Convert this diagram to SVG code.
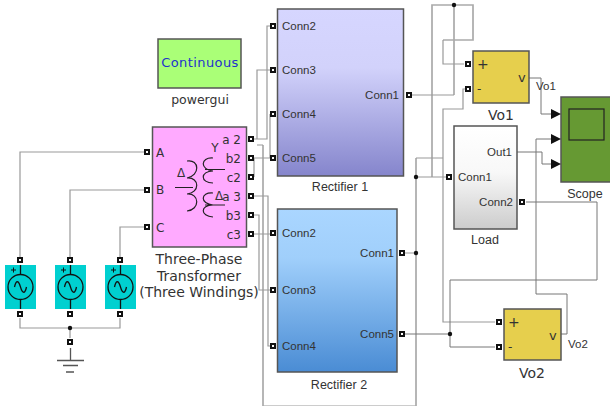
<svg xmlns="http://www.w3.org/2000/svg" width="610" height="406" viewBox="0 0 610 406">
<style>
text{font-family:"Liberation Sans",Arial,sans-serif;fill:#333;font-size:11.500px}
.v{font-family:"DejaVu Sans",Verdana,sans-serif}
.m{text-anchor:middle}
.e{text-anchor:end}
.t{font-size:12px}
.l{font-size:12.500px}
.h{font-size:14px}
.w{fill:none;stroke:#999;stroke-width:1.200}
.u{fill:none;stroke:#aaa;stroke-width:1.700}
.f{fill:none;stroke:#ccc;stroke-width:1}
.k{fill:none;stroke:#777;stroke-width:1}
.b{stroke:#555;stroke-width:1.500}
.s{fill:none;stroke:#222;stroke-width:1.200}
.j{fill:#111}
</style>
<defs>
<linearGradient id="g1" x1="0" y1="0" x2="0" y2="1"><stop offset="0" stop-color="#d6d6ff"/><stop offset=".35" stop-color="#d2d2fb"/><stop offset="1" stop-color="#8585cc"/></linearGradient>
<linearGradient id="g2" x1="0" y1="0" x2="0" y2="1"><stop offset="0" stop-color="#aad6ff"/><stop offset=".3" stop-color="#a0cffb"/><stop offset="1" stop-color="#4a8cd4"/></linearGradient>
<linearGradient id="g3" x1="0" y1="0" x2="0" y2="1"><stop offset="0" stop-color="#fff"/><stop offset=".45" stop-color="#f8f8f8"/><stop offset="1" stop-color="#ccc"/></linearGradient>
<g id="p"><rect x="-3" y="-3" width="6" height="6" fill="#111"/><rect x="-1" y="-1" width="2" height="2" fill="#fff"/></g>
<g id="src"><rect x="0" y="0" width="31" height="44" fill="#00d0d0"/><circle cx="15.500" cy="22" r="12.500" fill="none" stroke="#111" stroke-width="1.300"/><path d="M15.500 0V9.500M15.500 34.500V44M9.500 22c1.500-7 4-7 6 0s4.500 7 6 0" fill="none" stroke="#111" stroke-width="1.300"/><path d="M6 5h5M8.500 2.500v5" stroke="#111"/></g>
<path id="ar" d="M0-5L10 0L0 5Z" fill="#111"/>
</defs>
<g id="connectors">
<path class="f" d="M263 405.500H416"/>
<path class="u" d="M263 145V406M416 406V158M454 95V5M432 177V5H473V40H443"/>
<path class="w" d="M147 152H20V260M147 190H70V260M147 227H120V260M20 318V328H120V318M70 328V338"/>
<path class="w" d="M251 139H267V26H273M257 139V70H273M257 145H263M254 158V177M251 158H273M270 114V158M251 196H268V346H273M251 215H259V290H273M251 234H273"/>
<path class="w" d="M409 95H454M443 40V64H464M416 177H449M416 158H443V109H463V89H468M443 109V322H495M402 253H416"/>
<path class="k" d="M402 334H450M450 280V347H495M450 280H597V202H526"/>
<path class="k" d="M529 78H541V114H551M517 152H542V164H551M551 139H536V294H567V334H561"/>
<circle class="j" cx="454" cy="5" r="2.200"/><circle class="j" cx="416" cy="177" r="2.200"/><circle class="j" cx="416" cy="253" r="2.200"/><circle class="j" cx="450" cy="334" r="2.200"/><circle class="j" cx="70" cy="328" r="2.200"/>
</g>
<g id="powergui"><rect class="b" x="158" y="39" width="83" height="49" fill="#aaff77"/><text class="v m" x="200" y="67" style="fill:#2233cc;font-size:13px;letter-spacing:.4px">Continuous</text><text class="v m" x="200" y="104" style="font-size:12.500px">powergui</text></g>
<g id="transformer"><rect class="b" x="152.500" y="127" width="94" height="120" fill="#ffaaff"/>
<text class="v t" x="156" y="157">A</text><text class="v t" x="156" y="194">B</text><text class="v t" x="156" y="232">C</text>
<text class="v e t" x="241" y="144">a 2</text><text class="v e t" x="241" y="163">b2</text><text class="v e t" x="241" y="182">c2</text><text class="v e t" x="241" y="201">a 3</text><text class="v e t" x="241" y="220">b3</text><text class="v e t" x="241" y="239">c3</text>
<path class="s" d="M187 161c13-2 13 15 0 17c13-1 13 15 0 16c13-1 13 16 0 17M175 187.500H193M213 158c-13-1-13 12 0 13c-13 0-13 12 0 12M205 169.500H225M213 193c-13-1-13 11 0 12c-13 0-13 11 0 12M205 205H225"/>
<text class="v m t" x="215" y="152">Y</text><text class="v m t" x="181" y="177">Δ</text><text class="v m t" x="219" y="200">Δ</text>
<text class="v m h" x="199" y="264">Three-Phase</text><text class="v m h" x="199" y="281">Transformer</text><text class="v m h" x="199" y="297">(Three Windings)</text>
<use href="#p" x="147" y="152"/><use href="#p" x="147" y="190"/><use href="#p" x="147" y="227"/><use href="#p" x="251" y="139"/><use href="#p" x="251" y="158"/><use href="#p" x="251" y="177"/><use href="#p" x="251" y="196"/><use href="#p" x="251" y="215"/><use href="#p" x="251" y="234"/></g>
<g id="source-a"><use href="#src" x="5" y="265"/><use href="#p" x="20" y="260"/><use href="#p" x="20" y="314"/></g>
<g id="source-b"><use href="#src" x="55" y="265"/><use href="#p" x="70" y="260"/><use href="#p" x="70" y="314"/></g>
<g id="source-c"><use href="#src" x="105" y="265"/><use href="#p" x="120" y="260"/><use href="#p" x="120" y="314"/></g>
<g id="ground"><use href="#p" x="70" y="342"/><path d="M70.500 348V360M57 360.500H84M63 365.500H78M66 372H74" stroke="#555" stroke-width="1.300" fill="none"/></g>
<g id="rectifier-1"><rect class="b" x="277.500" y="9" width="126" height="167" fill="url(#g1)"/>
<text x="282" y="30">Conn2</text><text x="282" y="74">Conn3</text><text x="282" y="118">Conn4</text><text x="282" y="162">Conn5</text><text class="e" x="399" y="99">Conn1</text><text class="m l" x="340" y="191">Rectifier 1</text>
<use href="#p" x="273" y="26"/><use href="#p" x="273" y="70"/><use href="#p" x="273" y="114"/><use href="#p" x="273" y="158"/><use href="#p" x="409" y="95"/></g>
<g id="rectifier-2"><rect class="b" x="277.500" y="209" width="119.500" height="163" fill="url(#g2)"/>
<text x="282" y="237">Conn2</text><text x="282" y="294">Conn3</text><text x="282" y="350">Conn4</text><text class="e" x="394" y="257">Conn1</text><text class="e" x="394" y="338">Conn5</text><text class="m l" x="339" y="389">Rectifier 2</text>
<use href="#p" x="273" y="233"/><use href="#p" x="273" y="290"/><use href="#p" x="273" y="346"/><use href="#p" x="402" y="253"/><use href="#p" x="402" y="334"/></g>
<g id="vo1"><rect class="b" x="473" y="51" width="56" height="52" fill="#e6cf4d"/><text class="v h" x="477" y="69">+</text><text class="v t" x="477" y="93">-</text><text class="v" x="518" y="82" style="font-size:13px">v</text><text class="v m h" x="501" y="120">Vo1</text><use href="#p" x="468" y="64"/><use href="#p" x="468" y="89"/><text class="m" x="546" y="90" style="font-size:11.500px">Vo1</text></g>
<g id="load"><rect class="b" x="454" y="126" width="63" height="103" fill="url(#g3)"/><text class="e" x="512" y="156">Out1</text><text x="458" y="181">Conn1</text><text class="e" x="513" y="206">Conn2</text><text class="m l" x="485" y="244">Load</text><use href="#p" x="449" y="177"/><use href="#p" x="522" y="202"/></g>
<g id="scope"><rect class="b" x="561" y="97" width="50" height="85" fill="#669933"/><rect x="569" y="109" width="35" height="31" fill="none" stroke="#222" stroke-width="1.200"/><use href="#ar" x="551" y="114"/><use href="#ar" x="551" y="139"/><use href="#ar" x="551" y="164"/><text class="m l" x="585" y="198">Scope</text></g>
<g id="vo2"><rect class="b" x="504" y="309" width="57" height="51" fill="#e6cf4d"/><text class="v h" x="508" y="327">+</text><text class="v t" x="508" y="351">-</text><text class="v" x="549" y="340" style="font-size:13px">v</text><text class="v m h" x="532" y="378">Vo2</text><use href="#p" x="499" y="322"/><use href="#p" x="499" y="347"/><text class="m" x="578" y="348" style="font-size:11.500px">Vo2</text></g>
</svg>
